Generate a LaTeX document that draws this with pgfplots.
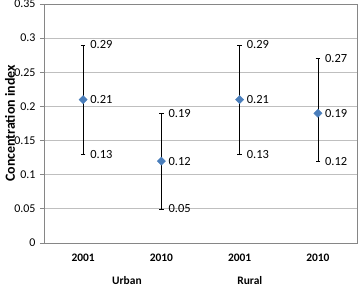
\documentclass[border=0pt]{standalone}
\usepackage{pgfplots}
\pgfplotsset{compat=1.18}
\usepackage{fontspec}
\setmainfont{Carlito}
\definecolor{ptblue}{HTML}{4A7EBB}
\definecolor{gridgray}{HTML}{BFBFBF}
\definecolor{axgray}{HTML}{868686}
\begin{document}
\begin{tikzpicture}
\begin{axis}[
  scale only axis,
  width=313bp, height=239bp,
  xmin=-0.5, xmax=3.5,
  ymin=0, ymax=0.35,
  ytick={0,0.05,...,0.35},
  yticklabels={0,0.05,0.1,0.15,0.2,0.25,0.3,0.35},
  xtick={0,1,2,3},
  xticklabels={2001,2010,2001,2010},
  xticklabel style={font=\fontsize{11.5}{13}\selectfont\bfseries, yshift=-3bp},
  yticklabel style={font=\fontsize{12}{14}\selectfont, xshift=-1bp},
  ymajorgrids,
  grid style={gridgray, line width=0.8pt},
  axis line style={axgray, line width=0.8pt},
  major tick length=4bp,
  ytick style={axgray, line width=0.8pt},
  xtick style={draw=none},
  tick align=outside,
  ylabel={\bfseries Concentration index},
  ylabel style={font=\fontsize{14}{16}\selectfont, at={(rel axis cs:0,0.5)}, anchor=center, yshift=34bp},
  clip=false,
  /pgf/number format/assume math mode=true,
]
\addplot[only marks, mark=square*, mark size=2.9bp, mark options={rotate=45}, color=ptblue,
  error bars/.cd, y dir=both, y explicit,
  error bar style={black, line width=0.7pt},
  error mark options={rotate=90, mark size=2.2bp, black, line width=0.6pt}]
  table[x=x, y=y, y error plus=ep, y error minus=em] {
  x y ep em
  0 0.21 0.08 0.08
  1 0.12 0.07 0.07
  2 0.21 0.08 0.08
  3 0.19 0.08 0.07
};
\addplot[only marks, mark=none, nodes near coords, point meta=explicit symbolic,
  nodes near coords style={anchor=west, xshift=6bp, font=\fontsize{12.5}{14}\selectfont, black, inner sep=1pt}]
  table[x=x, y=y, meta=lab] {
  x y lab
  0 0.29 0.29
  0 0.21 0.21
  0 0.13 0.13
  1 0.19 0.19
  1 0.12 0.12
  1 0.05 0.05
  2 0.29 0.29
  2 0.21 0.21
  2 0.13 0.13
  3 0.27 0.27
  3 0.19 0.19
  3 0.12 0.12
};
\draw[axgray, line width=0.8pt] (rel axis cs:0,1) -- (rel axis cs:1,1) -- (rel axis cs:1,0);
\node[font=\fontsize{11.5}{13}\selectfont\bfseries] at (axis cs:0.56,0) [yshift=-38bp] {Urban};
\node[font=\fontsize{11.5}{13}\selectfont\bfseries] at (axis cs:2.13,0) [yshift=-38bp] {Rural};
\end{axis}
\pgfresetboundingbox
\path (-44bp,-45bp) rectangle (314bp,243bp);
\end{tikzpicture}
\end{document}
